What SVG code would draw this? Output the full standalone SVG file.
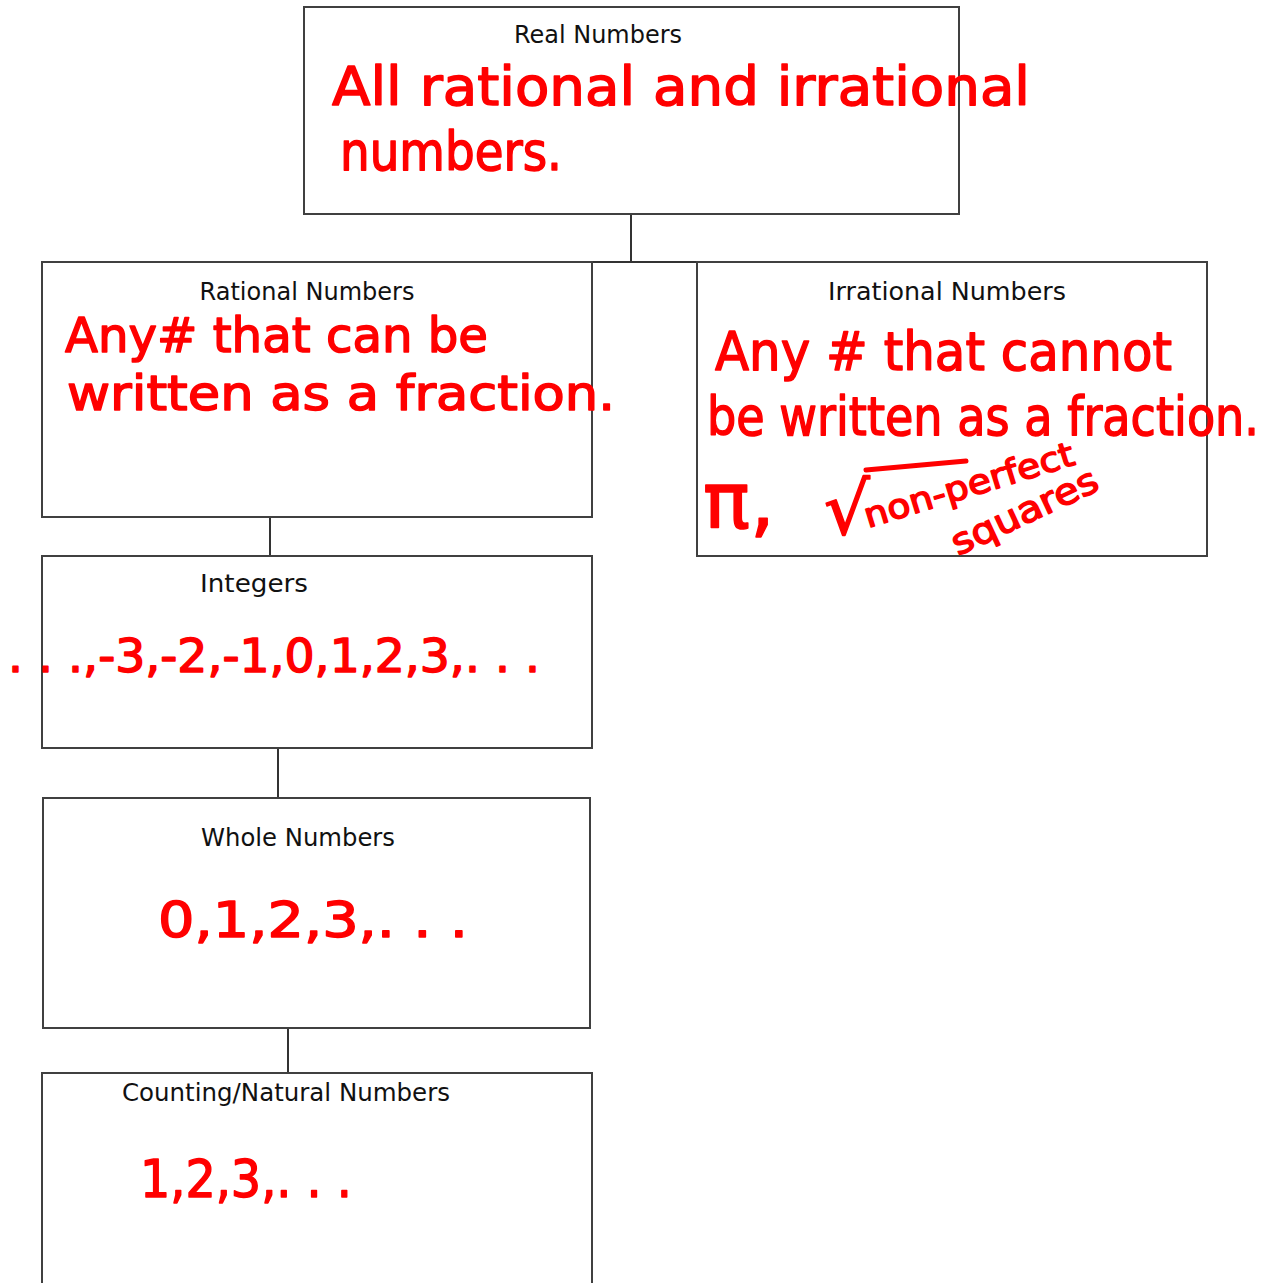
<svg xmlns="http://www.w3.org/2000/svg" width="1277" height="1283" viewBox="0 0 1277 1283">
<style>
.box{fill:#fff;stroke:#404040;stroke-width:2}
.conn{stroke:#333;stroke-width:2;fill:none}
.title{font-family:"Comic Sans MS","DejaVu Sans","Liberation Sans",sans-serif;font-size:25px;fill:#111;text-anchor:middle}
.hw{font-family:"DejaVu Sans","Liberation Sans",sans-serif;fill:#ff0000;stroke:#ff0000;stroke-width:1.5;stroke-linejoin:round}
</style>
<rect width="1277" height="1283" fill="#fff"/>
<g id="connectors">
<line class="conn" x1="631" y1="214" x2="631" y2="262"/>
<line class="conn" x1="592" y1="262" x2="697" y2="262"/>
<line class="conn" x1="270" y1="517" x2="270" y2="556"/>
<line class="conn" x1="278" y1="748" x2="278" y2="798"/>
<line class="conn" x1="288" y1="1028" x2="288" y2="1073"/>
</g>
<g id="real">
<rect class="box" x="304" y="7" width="655" height="207"/>
<text class="title" x="598" y="43" textLength="168" lengthAdjust="spacingAndGlyphs">Real Numbers</text>
<text class="hw" x="332" y="105" font-size="54" textLength="698" lengthAdjust="spacingAndGlyphs">All rational and irrational</text>
<text class="hw" x="340" y="170" font-size="54" textLength="222" lengthAdjust="spacingAndGlyphs">numbers.</text>
</g>
<g id="rational">
<rect class="box" x="42" y="262" width="550" height="255"/>
<text class="title" x="307" y="300" textLength="215" lengthAdjust="spacingAndGlyphs">Rational Numbers</text>
<text class="hw" x="65" y="352" font-size="48" textLength="423" lengthAdjust="spacingAndGlyphs">Any# that can be</text>
<text class="hw" x="67" y="410" font-size="48" textLength="548" lengthAdjust="spacingAndGlyphs">written as a fraction.</text>
</g>
<g id="irrational">
<rect class="box" x="697" y="262" width="510" height="294"/>
<text class="title" x="947" y="300" textLength="238" lengthAdjust="spacingAndGlyphs">Irrational Numbers</text>
<text class="hw" x="715" y="370" font-size="54" textLength="457" lengthAdjust="spacingAndGlyphs">Any # that cannot</text>
<text class="hw" x="707" y="435" font-size="54" textLength="552" lengthAdjust="spacingAndGlyphs">be written as a fraction.</text>
<text class="hw" x="703" y="528" font-size="78">π,</text>
<text class="hw" x="824" y="534" font-size="72">√</text>
<line x1="866" y1="470" x2="966" y2="461" stroke="#ff0000" stroke-width="5" stroke-linecap="round"/>
<text class="hw" x="868" y="528" font-size="34" transform="rotate(-17 868 528)" textLength="218" lengthAdjust="spacingAndGlyphs">non-perfect</text>
<text class="hw" x="958" y="556" font-size="36" transform="rotate(-25 958 556)" textLength="158" lengthAdjust="spacingAndGlyphs">squares</text>
</g>
<g id="integers">
<rect class="box" x="42" y="556" width="550" height="192"/>
<text class="title" x="254" y="592" textLength="108" lengthAdjust="spacingAndGlyphs">Integers</text>
<text class="hw" x="8" y="672" font-size="46" textLength="532" lengthAdjust="spacingAndGlyphs">. . .,-3,-2,-1,0,1,2,3,. . .</text>
</g>
<g id="whole">
<rect class="box" x="43" y="798" width="547" height="230"/>
<text class="title" x="298" y="846" textLength="194" lengthAdjust="spacingAndGlyphs">Whole Numbers</text>
<text class="hw" x="158" y="937" font-size="50" textLength="310" lengthAdjust="spacingAndGlyphs">0,1,2,3,. . .</text>
</g>
<g id="counting">
<rect class="box" x="42" y="1073" width="550" height="230"/>
<text class="title" x="286" y="1101" textLength="328" lengthAdjust="spacingAndGlyphs">Counting/Natural Numbers</text>
<text class="hw" x="140" y="1197" font-size="52" textLength="212" lengthAdjust="spacingAndGlyphs">1,2,3,. . .</text>
</g>
</svg>
